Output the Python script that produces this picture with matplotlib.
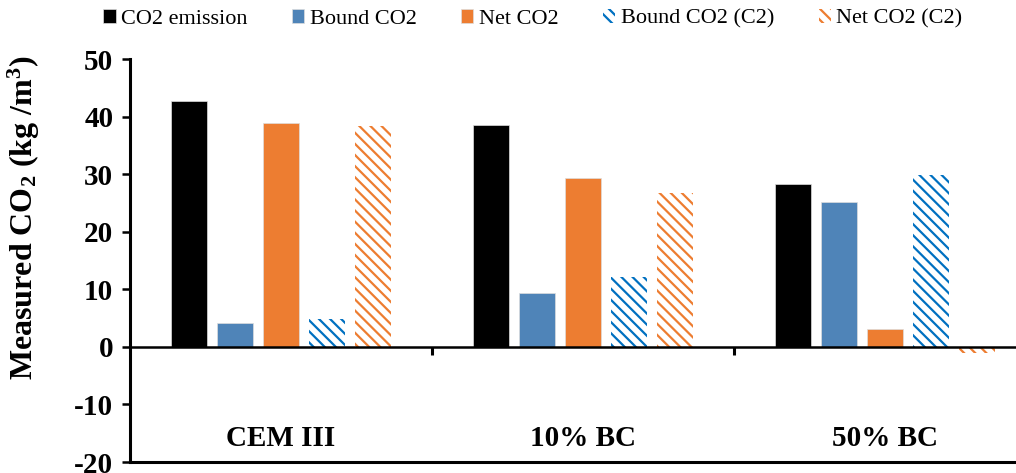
import matplotlib
matplotlib.use('Agg')
import matplotlib.pyplot as plt
import numpy as np

plt.rcParams['font.family'] = ['Liberation Serif', 'DejaVu Serif']
plt.rcParams['mathtext.fontset'] = 'custom'
plt.rcParams['mathtext.rm'] = 'Liberation Serif:bold'
plt.rcParams['mathtext.it'] = 'Liberation Serif:bold'
plt.rcParams['mathtext.bf'] = 'Liberation Serif:bold'
plt.rcParams['axes.unicode_minus'] = False
plt.rcParams['hatch.linewidth'] = 1.6

# data
categories = ['CEM III', '10% BC', '50% BC']
series = ['CO2 emission', 'Bound CO2', 'Net CO2', 'Bound CO2 (C2)', 'Net CO2 (C2)']
co2_emission = [42.7, 38.5, 28.3]
bound_co2 = [4.1, 9.3, 25.1]
net_co2 = [38.9, 29.4, 3.1]
bound_co2_c2 = [4.8, 12.1, 29.9]
net_co2_c2 = [38.3, 26.7, -1.1]

values = [co2_emission, bound_co2, net_co2, bound_co2_c2, net_co2_c2]
colors = ['#000000', '#4f84b8', '#ed7d31', '#0070c0', '#ed7d31']
hatched = [False, False, False, True, True]

fig = plt.figure(figsize=(10.16, 4.73), dpi=100)
ax = fig.add_axes([130 / 1016, 11 / 473, 906 / 1016, 403 / 473])

x = np.arange(len(categories))
step = 0.152
width = 0.119
handles = []
for k, (name, vals) in enumerate(zip(series, values)):
    pos = x + (k - 2) * step
    if hatched[k]:
        b = ax.bar(pos, vals, width, facecolor='white', edgecolor=colors[k],
                   hatch='\\\\\\', linewidth=0, label=name)
    else:
        b = ax.bar(pos, vals, width, color=colors[k], edgecolor='#dddddd',
                   linewidth=0.5, label=name)
    handles.append(b)

ax.set_xlim(-0.5, 2.5)
ax.set_ylim(-20, 50)
ax.set_yticks(range(-20, 51, 10))
for lbl in ax.get_yticklabels():
    lbl.set_fontweight('bold')
ax.tick_params(axis='y', labelsize=21, length=6, width=1.8, direction='out', pad=6)
ax.set_xticks([])

for s in ['top', 'right']:
    ax.spines[s].set_visible(False)
for s in ['left', 'bottom']:
    ax.spines[s].set_linewidth(2.2)

# zero line with category separators
ax.axhline(0, color='black', lw=1.8, zorder=3)
ax.vlines([0.5, 1.5], -1.5, 0, color='black', lw=2.2, zorder=3)

for xi, cat in zip(x, categories):
    ax.text(xi, -15.9, cat, ha='center', va='center', fontsize=21, fontweight='bold')

ax.set_ylabel('Measured CO$_2$ (kg /m$^3$)', fontsize=23, fontweight='bold')
ax.yaxis.set_label_coords(-0.097, 0.605)

fig.legend(handles, series, loc='center', bbox_to_anchor=(533 / 1016, 1 - 19 / 473),
           ncol=5, frameon=False, fontsize=16, handlelength=0.55, handleheight=0.55,
           handletextpad=0.25, columnspacing=2.0, borderpad=0)

fig.savefig('out.png', dpi=100)
